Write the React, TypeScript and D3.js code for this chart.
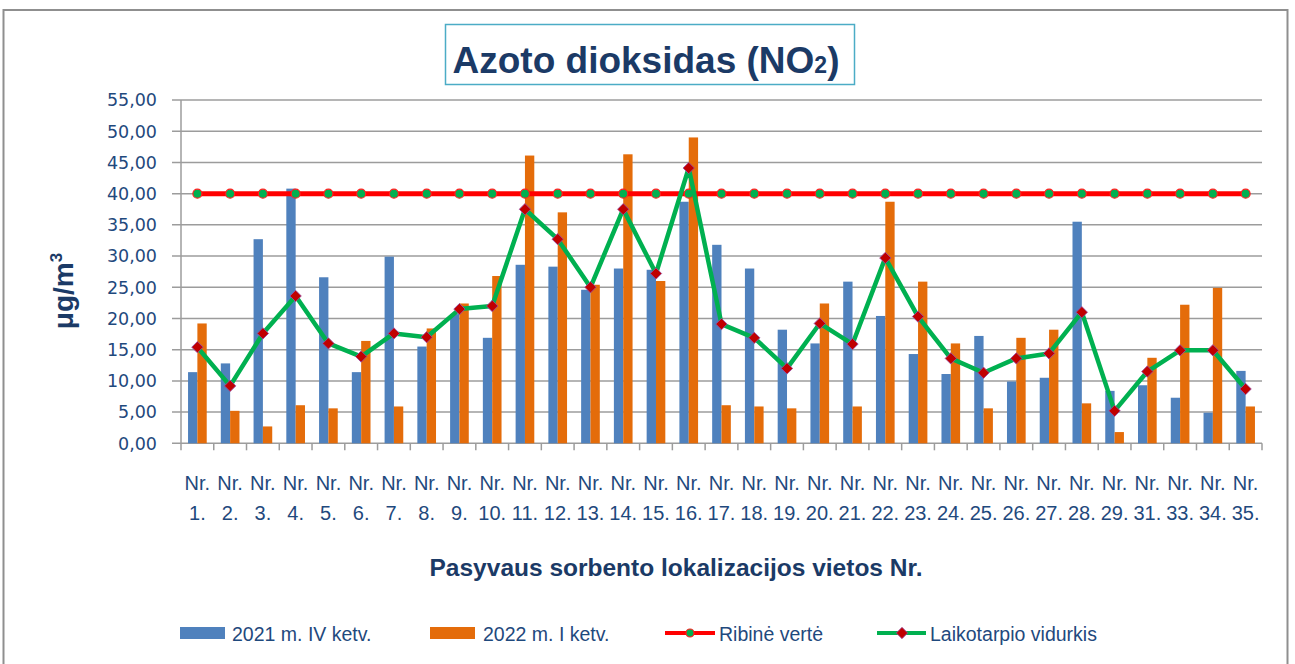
import * as d3 from "d3";

// site labels on the x axis
const sites = [
  "1.", "2.", "3.", "4.", "5.", "6.", "7.", "8.", "9.", "10.", "11.",
  "12.", "13.", "14.", "15.", "16.", "17.", "18.", "19.", "20.", "21.", "22.",
  "23.", "24.", "25.", "26.", "27.", "28.", "29.", "31.", "33.", "34.", "35.",
];

// µg/m3 per site
const q4_2021 = [
  11.4, 12.8, 32.7, 40.8, 26.6, 11.4, 29.9, 15.5, 20.7, 16.9, 28.6,
  28.3, 24.6, 28.0, 27.8, 38.7, 31.8, 28.0, 18.2, 16.0, 25.9, 20.4,
  14.3, 11.1, 17.2, 9.9, 10.5, 35.5, 8.4, 9.3, 7.3, 4.9, 11.6,
];
const q1_2022 = [
  19.2, 5.2, 2.7, 6.1, 5.6, 16.4, 5.9, 18.4, 22.4, 26.8, 46.1,
  37.0, 25.4, 46.3, 26.0, 49.0, 6.1, 5.9, 5.6, 22.4, 5.9, 38.7,
  25.9, 16.0, 5.6, 16.9, 18.2, 6.4, 1.8, 13.7, 22.2, 24.9, 5.9,
];
const periodAvg = [
  15.4, 9.2, 17.6, 23.6, 16.0, 13.9, 17.6, 17.0, 21.5, 22.0, 37.5,
  32.7, 25.0, 37.5, 27.2, 44.1, 19.1, 16.9, 12.0, 19.2, 15.9, 29.7,
  20.3, 13.6, 11.3, 13.6, 14.4, 21.0, 5.2, 11.5, 14.9, 14.9, 8.7,
];
const LIMIT = 40;
const yTicks = [0, 5, 10, 15, 20, 25, 30, 35, 40, 45, 50, 55];

const seriesNames = ["2021 m. IV ketv.", "2022 m. I ketv."];
const barColors = ["#4f81bd", "#e46c0a"];

const width = 1295;
const height = 664;
const left = 181;
const right = 1262;
const top = 100;
const bottom = 443.3;

const textColor = "#1f497d";
const titleColor = "#1b3a66";
const font = "'Liberation Sans', Arial, sans-serif";

export default function App() {
  const x = d3.scaleBand<string>()
    .domain(sites)
    .range([left, right])
    .paddingInner(0.43)
    .paddingOuter(0.215);

  const sub = d3.scaleBand<number>()
    .domain([0, 1])
    .range([0, x.bandwidth()]);

  const y = d3.scaleLinear().domain([0, 55]).range([bottom, top]);

  const step = x.step();
  const cx = (s: string) => (x(s) as number) + x.bandwidth() / 2;
  const fmt = (v: number) => d3.format(".2f")(v).replace(".", ",");

  const line = d3.line<number>()
    .x((_, i) => cx(sites[i]))
    .y(d => y(d));

  const diamond = d3.symbol(d3.symbolSquare, 64)();

  const grouped = [q4_2021, q1_2022];

  return (
    <svg width={width} height={height} style={{ position: "absolute", left: 0, top: 0 }}>
      <rect x={0} y={0} width={width} height={height} fill="#fff" />
      {/* chart frame */}
      <rect x={3.5} y={10} width={1284} height={670} fill="none" stroke="#8f8f8f" strokeWidth={2} />

      {/* title */}
      <rect x={445.5} y={24.5} width={409} height={60} fill="#fff" stroke="#4bacc6" strokeWidth={1.5} />
      <text x={646} y={73} textAnchor="middle" fontFamily={font} fontWeight="bold" fontSize={37} fill={titleColor}>
        Azoto dioksidas (NO<tspan fontSize={23}>2</tspan>)
      </text>

      {/* grid + y axis */}
      {yTicks.map(t => (
        <g key={t}>
          <line x1={172} x2={right} y1={y(t)} y2={y(t)} stroke="#9c9c9c" strokeWidth={1.5} />
          <text x={157} y={y(t)} dy="0.36em" textAnchor="end" fontFamily="'DejaVu Sans', sans-serif" fontSize={17.5} fill={textColor}>
            {fmt(t)}
          </text>
        </g>
      ))}
      <line x1={left} x2={left} y1={top} y2={bottom + 7} stroke="#9c9c9c" strokeWidth={1.5} />
      {sites.map((s, i) => (
        <line key={s} x1={left + step * (i + 1)} x2={left + step * (i + 1)} y1={bottom} y2={bottom + 7} stroke="#9c9c9c" strokeWidth={1.5} />
      ))}

      {/* bars */}
      {grouped.map((vals, k) => (
        <g key={k} fill={barColors[k]}>
          {vals.map((v, i) => (
            <rect
              key={i}
              x={(x(sites[i]) as number) + (sub(k) as number)}
              y={y(v)}
              width={sub.bandwidth()}
              height={bottom - y(v)}
            />
          ))}
        </g>
      ))}

      {/* limit value */}
      <line x1={cx(sites[0])} x2={cx(sites[sites.length - 1])} y1={y(LIMIT)} y2={y(LIMIT)} stroke="#ff0000" strokeWidth={5} />
      {sites.map(s => (
        <circle key={s} cx={cx(s)} cy={y(LIMIT)} r={4.5} fill="#00b050" stroke="#ff2020" strokeWidth={1.2} />
      ))}

      {/* period average */}
      <path d={line(periodAvg) ?? ""} fill="none" stroke="#00b050" strokeWidth={4.5} strokeLinejoin="round" />
      {periodAvg.map((v, i) => (
        <path key={i} d={diamond ?? ""} transform={`translate(${cx(sites[i])},${y(v)}) rotate(45)`} fill="#c00000" stroke="#9a4aa0" strokeWidth={0.8} />
      ))}

      {/* x labels */}
      {sites.map(s => (
        <text key={s} x={cx(s)} textAnchor="middle" fontFamily={font} fontSize={20} fill={textColor}>
          <tspan x={cx(s)} y={490}>Nr.</tspan>
          <tspan x={cx(s)} y={520}>{s}</tspan>
        </text>
      ))}

      {/* axis titles */}
      <text x={676} y={576} textAnchor="middle" fontFamily={font} fontWeight="bold" fontSize={24.5} fill={titleColor}>
        Pasyvaus sorbento lokalizacijos vietos Nr.
      </text>
      <text transform="translate(73,291) rotate(-90)" textAnchor="middle" fontFamily={font} fontWeight="bold" fontSize={28} fill={titleColor}>
        μg/m<tspan fontSize={17} dy={-11}>3</tspan>
      </text>

      {/* legend */}
      <g fontFamily={font} fontSize={19.5} fill={textColor}>
        <rect x={180} y={627} width={45} height={12} fill={barColors[0]} />
        <text x={232} y={641}>{seriesNames[0]}</text>
        <rect x={430} y={627} width={45} height={12} fill={barColors[1]} />
        <text x={483} y={641}>{seriesNames[1]}</text>
        <line x1={665} x2={715} y1={633} y2={633} stroke="#ff0000" strokeWidth={4} />
        <circle cx={690} cy={633} r={4} fill="#00b050" stroke="#ff2020" strokeWidth={1.2} />
        <text x={719} y={641}>Ribinė vertė</text>
        <line x1={877} x2={926} y1={633} y2={633} stroke="#00b050" strokeWidth={4} />
        <path d={diamond ?? ""} transform="translate(902,633) rotate(45)" fill="#c00000" stroke="#9a4aa0" strokeWidth={0.8} />
        <text x={930} y={641}>Laikotarpio vidurkis</text>
      </g>
    </svg>
  );
}
